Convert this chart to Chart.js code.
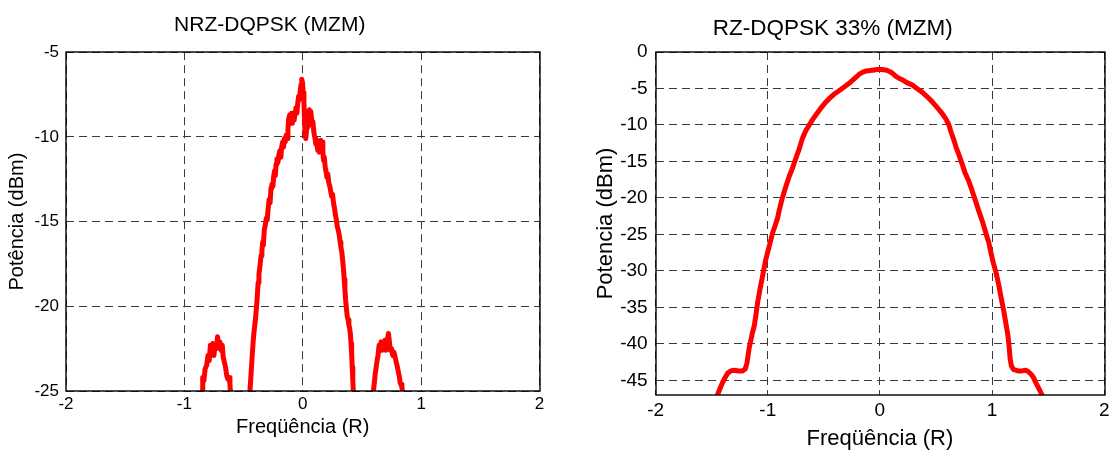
<!DOCTYPE html>
<html>
<head>
<meta charset="utf-8">
<title>Espectros DQPSK (MZM)</title>
<script src="https://cdn.jsdelivr.net/npm/chart.js@4.4.1/dist/chart.umd.min.js"></script>
<style>
  html, body { margin: 0; padding: 0; background: #fff; }
  body { width: 1114px; height: 453px; position: relative; overflow: hidden; }
  .panel { position: absolute; top: 0; height: 453px; }
  #left  { left: 0;     width: 560px; }
  #right { left: 560px; width: 554px; }
</style>
</head>
<body>
<div class="panel" id="left"><canvas id="nrz" width="560" height="453"></canvas></div>
<div class="panel" id="right"><canvas id="rz" width="554" height="453"></canvas></div>
<script>
// ── Data ────────────────────────────────────────────────────────────────────
const xTicks = [-2, -1, 0, 1, 2];

// NRZ-DQPSK: side lobe, main lobe, side lobe (points below -25 are clipped)
const nrzFreq = [
  -0.88, -0.85, -0.845, -0.835, -0.825, -0.812, -0.80, -0.79, -0.78, -0.77,
  -0.76, -0.75, -0.742, -0.73, -0.72, -0.71, -0.70, -0.69, -0.68, -0.672,
  -0.662, -0.652, -0.642, -0.632, -0.622, -0.615, -0.61, -0.60,
  -0.52, -0.46,
  -0.446, -0.435, -0.425, -0.418, -0.41, -0.40, -0.39, -0.384, -0.377, -0.37,
  -0.361, -0.352, -0.345, -0.338, -0.333, -0.325, -0.316, -0.308, -0.30, -0.292,
  -0.284, -0.276, -0.268, -0.26, -0.252, -0.245, -0.238, -0.232, -0.225, -0.218,
  -0.21, -0.20, -0.192, -0.185, -0.178, -0.17, -0.162, -0.155, -0.148, -0.14,
  -0.132, -0.125, -0.118, -0.11, -0.102, -0.095, -0.088, -0.08, -0.072, -0.065,
  -0.058, -0.05, -0.042, -0.035, -0.028, -0.02, -0.014, -0.008, -0.002, 0.004,
  0.01, 0.015, 0.02, 0.026, 0.032, 0.038, 0.044, 0.05, 0.056, 0.062,
  0.068, 0.074, 0.08, 0.086, 0.092, 0.098, 0.104, 0.11, 0.116, 0.122,
  0.128, 0.134, 0.14, 0.146, 0.152, 0.158, 0.164, 0.17, 0.176, 0.182,
  0.19, 0.198, 0.205, 0.212, 0.22, 0.228, 0.236, 0.244, 0.252, 0.26,
  0.268, 0.276, 0.284, 0.292, 0.30, 0.308, 0.316, 0.322, 0.33, 0.337,
  0.343, 0.35, 0.356, 0.362, 0.37, 0.376, 0.383, 0.39, 0.396, 0.402,
  0.408, 0.413, 0.418, 0.423, 0.428, 0.44,
  0.52, 0.58,
  0.597, 0.605, 0.612, 0.62, 0.628, 0.636, 0.645, 0.653, 0.662, 0.67,
  0.678, 0.686, 0.694, 0.702, 0.71, 0.718, 0.724, 0.732, 0.74, 0.75,
  0.76, 0.77, 0.78, 0.79, 0.80, 0.808, 0.815, 0.822, 0.83, 0.838,
  0.845, 0.86
];
const nrzPower = [
  -27, -25.0, -24.2, -24.4, -23.7, -23.5, -22.9, -23.2, -22.3, -22.6,
  -22.2, -22.9, -22.3, -22.5, -21.8, -22.4, -22.1, -22.6, -22.3, -23.0,
  -23.3, -23.6, -24.1, -24.3, -24.2, -24.6, -25.2, -27,
  -29, -27,
  -25.0, -23.8, -22.7, -22.0, -21.4, -20.8, -20.0, -19.4, -18.6, -18.1,
  -17.6, -17.0, -16.7, -16.2, -16.4, -15.5, -15.2, -14.8, -14.9, -14.2,
  -13.7, -13.9, -13.0, -12.8, -12.9, -12.3, -12.0, -12.3, -11.6, -11.3,
  -11.5, -11.0, -10.8, -11.2, -10.6, -10.3, -10.6, -10.1, -10.3, -9.9,
  -10.1, -9.5, -8.9, -8.7, -8.9, -8.6, -9.2, -8.7, -9.0, -8.5,
  -8.3, -8.6, -8.0, -7.6, -7.8, -7.2, -6.9, -6.6, -6.8, -7.4,
  -7.9, -9.0, -9.9, -10.1, -9.6, -9.4, -9.0, -8.6, -8.4, -8.7,
  -8.5, -8.9, -9.3, -9.1, -9.6, -9.9, -10.1, -10.4, -10.2, -10.6,
  -10.8, -10.5, -10.9, -10.4, -10.2, -10.5, -10.3, -10.9, -11.4, -11.2,
  -11.8, -12.1, -12.4, -12.2, -12.7, -12.9, -13.2, -13.5, -13.4, -13.9,
  -14.2, -14.6, -14.9, -15.3, -15.5, -15.8, -16.2, -16.5, -16.8, -17.3,
  -17.7, -18.4, -19.0, -19.6, -20.2, -20.6, -20.8, -21.1, -21.3, -21.6,
  -22.2, -22.8, -23.6, -24.4, -25.1, -27,
  -29, -27,
  -25.0, -24.5, -24.0, -23.6, -23.2, -22.9, -22.3, -22.5, -22.1, -22.6,
  -22.2, -22.4, -22.0, -22.6, -22.2, -21.9, -21.6, -22.1, -22.6, -22.5,
  -22.9, -22.7, -23.0, -23.3, -23.6, -23.9, -24.1, -24.5, -24.6, -24.8,
  -25.1, -27
];
const nrzYTicks = [-25, -20, -15, -10, -5];

// RZ-DQPSK 33%
const rzFreq = [
  -1.47, -1.446, -1.42, -1.40, -1.38, -1.357, -1.33, -1.30, -1.26, -1.224,
  -1.20, -1.185, -1.175, -1.165, -1.155, -1.14, -1.12, -1.105, -1.09, -1.068,
  -1.046, -1.02, -1.0, -0.978, -0.957, -0.935, -0.913, -0.898, -0.87, -0.838,
  -0.81, -0.779, -0.75, -0.72, -0.69, -0.661, -0.63, -0.602, -0.565, -0.527,
  -0.49, -0.453, -0.41, -0.364, -0.31, -0.26, -0.21, -0.18, -0.157, -0.12,
  -0.068, -0.02, 0.02, 0.06, 0.09, 0.11, 0.14, 0.17, 0.199, 0.24,
  0.287, 0.33, 0.376, 0.42, 0.465, 0.51, 0.554, 0.585, 0.613, 0.635,
  0.658, 0.68, 0.705, 0.732, 0.76, 0.79, 0.82, 0.85, 0.88, 0.909,
  0.935, 0.954, 0.969, 0.99, 1.013, 1.035, 1.058, 1.08, 1.102, 1.12,
  1.141, 1.152, 1.161, 1.172, 1.191, 1.23, 1.265, 1.30, 1.324, 1.35,
  1.369, 1.39, 1.413, 1.443, 1.47
];
const rzPower = [
  -48.5, -46.9, -45.9, -45.2, -44.6, -44.0, -43.7, -43.6, -43.7, -43.7,
  -43.4, -42.6, -41.5, -40.5, -39.8, -38.7, -37.5, -36.0, -34.3, -32.4,
  -30.7, -28.6, -27.4, -26.1, -24.8, -23.8, -22.8, -21.7, -20.0, -18.4,
  -17.1, -15.9, -14.6, -13.3, -11.8, -10.8, -10.0, -9.3, -8.5, -7.7,
  -7.0, -6.4, -5.8, -5.3, -4.7, -4.1, -3.4, -3.0, -2.8, -2.6,
  -2.5, -2.4, -2.4, -2.5, -2.7, -2.9, -3.3, -3.6, -3.8, -4.2,
  -4.5, -5.0, -5.5, -6.1, -6.8, -7.6, -8.4, -9.1, -9.9, -11.0,
  -12.0, -13.1, -14.1, -15.3, -16.6, -17.6, -18.9, -20.3, -21.7, -23.0,
  -24.3, -25.3, -26.0, -27.5, -29.0, -30.2, -31.8, -33.6, -35.3, -36.9,
  -38.8, -40.4, -42.0, -43.0, -43.5, -43.7, -43.7, -43.6, -43.8, -44.2,
  -44.6, -45.3, -46.0, -46.9, -48.2
];
const rzYTicks = [-45, -40, -35, -30, -25, -20, -15, -10, -5, 0];

// ── Shared bits ─────────────────────────────────────────────────────────────
const FONT = 'Arial, "Liberation Sans", Helvetica, sans-serif';
const GRID = '#3a3a3a';

// black box around the plot area (MATLAB "box on")
const boxPlugin = {
  id: 'box',
  afterDatasetsDraw(chart) {
    const { ctx, chartArea: a } = chart;
    ctx.save();
    ctx.strokeStyle = '#000';
    ctx.lineWidth = 1.4;
    ctx.strokeRect(Math.round(a.left), Math.round(a.top),
                   Math.round(a.right - a.left), Math.round(a.bottom - a.top));
    ctx.restore();
  }
};

function pairs(xs, ys) {
  return xs.map((x, i) => ({ x, y: ys[i] }));
}

function makeChart(id, cfg) {
  return new Chart(document.getElementById(id), {
    type: 'line',
    data: {
      datasets: [{
        data: pairs(cfg.freq, cfg.power),
        borderColor: '#ff0000',
        borderWidth: 5,
        pointRadius: 0,
        tension: 0,
        borderJoinStyle: 'round',
        borderCapStyle: 'round',
        clip: 0,
      }]
    },
    options: {
      responsive: false,
      animation: false,
      devicePixelRatio: 1,
      events: [],
      layout: { padding: { left: 0, right: cfg.padRight, top: 0, bottom: 0 } },
      plugins: {
        legend: { display: false },
        tooltip: { enabled: false },
        title: {
          display: true,
          text: cfg.title,
          color: '#000',
          font: { family: FONT, size: cfg.titleSize, weight: 'normal' },
          padding: cfg.titlePad,
        }
      },
      scales: {
        x: {
          type: 'linear',
          min: -2, max: 2,
          afterBuildTicks: s => { s.ticks = xTicks.map(v => ({ value: v })); },
          afterFit: s => { s.height = cfg.xHeight; },
          grid: { color: GRID, lineWidth: 1, drawTicks: false },
          border: { display: false, dash: [8, 5] },
          ticks: {
            color: '#000', padding: cfg.xTickPad,
            font: { family: FONT, size: cfg.tickSize },
            maxRotation: 0, autoSkip: false,
          },
          title: {
            display: true, text: 'Freqüência (R)', color: '#000',
            font: { family: FONT, size: cfg.xLabelSize },
            padding: { top: 0, bottom: cfg.xLabelPad },
          }
        },
        y: {
          type: 'linear',
          min: cfg.yMin, max: cfg.yMax,
          afterBuildTicks: s => { s.ticks = cfg.yTicks.map(v => ({ value: v })); },
          afterFit: s => { s.width = cfg.yWidth; },
          grid: { color: GRID, lineWidth: 1, drawTicks: false },
          border: { display: false, dash: [8, 5] },
          ticks: {
            color: '#000', padding: cfg.yTickPad,
            font: { family: FONT, size: cfg.tickSize },
            autoSkip: false,
          },
          title: {
            display: true, text: cfg.yLabel, color: '#000',
            font: { family: FONT, size: cfg.yLabelSize },
            padding: { top: cfg.yLabelPad, bottom: 0 },
          }
        }
      }
    },
    plugins: [boxPlugin]
  });
}

makeChart('nrz', {
  freq: nrzFreq, power: nrzPower, yTicks: nrzYTicks,
  yMin: -25, yMax: -5,
  title: 'NRZ-DQPSK (MZM)', titleSize: 21, titlePad: { top: 13, bottom: 14 },
  yLabel: 'Potência (dBm)', yLabelSize: 20, yLabelPad: 5,
  xLabelSize: 20, xLabelPad: 14,
  tickSize: 17, xTickPad: 3, yTickPad: 7,
  yWidth: 66, xHeight: 62, padRight: 20.5,
});

makeChart('rz', {
  freq: rzFreq, power: rzPower, yTicks: rzYTicks,
  yMin: -47, yMax: 0,
  title: 'RZ-DQPSK 33% (MZM)', titleSize: 22.5, titlePad: { top: 15, bottom: 10 },
  yLabel: 'Potencia (dBm)', yLabelSize: 22, yLabelPad: 33,
  xLabelSize: 22, xLabelPad: 1,
  tickSize: 19, xTickPad: 4.5, yTickPad: 8,
  yWidth: 95.6, xHeight: 58, padRight: 8.5,
});
</script>
</body>
</html>
